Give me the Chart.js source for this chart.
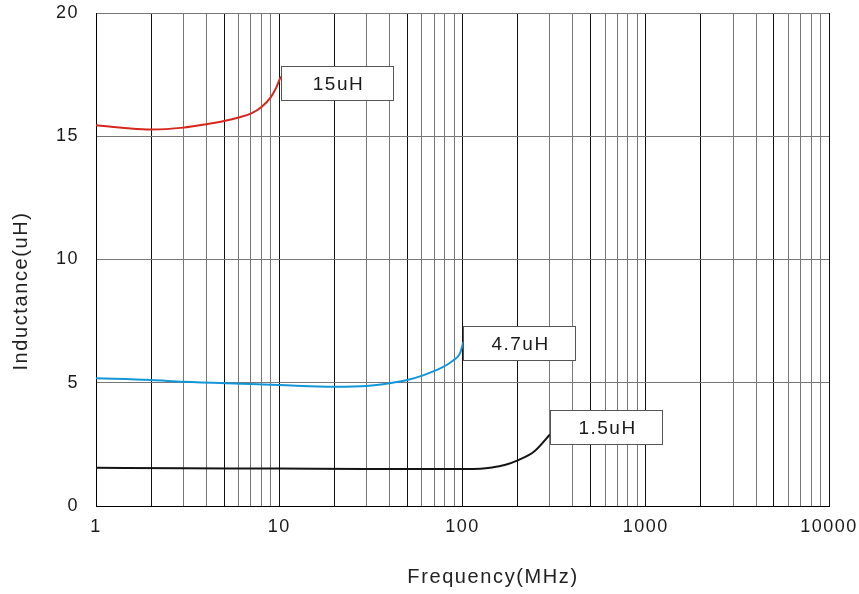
<!DOCTYPE html>
<html>
<head>
<meta charset="utf-8">
<script src="https://cdn.jsdelivr.net/npm/chart.js@4/dist/chart.umd.min.js"></script>
<style>
  html, body { margin: 0; padding: 0; background: #fff; }
  #wrap { width: 859px; height: 594px; }
</style>
</head>
<body>
<div id="wrap"><canvas id="chart"></canvas></div>
<script>
// frequency ticks (MHz), one gridline each
const freqTicks = [1, 2, 3, 4, 5, 6, 7, 8, 9,
    10, 20, 30, 40, 50, 60, 70, 80, 90,
    100, 200, 300, 400, 500, 600, 700, 800, 900,
    1000, 2000, 3000, 4000, 5000, 6000, 7000, 8000, 9000, 10000];
const freqLabels = [1, 10, 100, 1000, 10000];

// 15uH
const freq15 = [1, 1.5, 2, 3, 4, 5, 6, 7, 8, 9, 9.6, 10.2];
const ind15 = [15.45, 15.32, 15.27, 15.35, 15.49, 15.62, 15.76, 15.92, 16.19, 16.59, 16.95, 17.43];

// 4.7uH
const freq47 = [1, 2, 3, 7, 10, 20, 30, 40, 50, 62, 76, 90, 97, 101];
const ind47 = [5.18, 5.11, 5.04, 4.95, 4.91, 4.84, 4.87, 4.98, 5.11, 5.32, 5.59, 5.93, 6.2, 6.65];

// 1.5uH
const freq15b = [1, 3, 10, 30, 100, 125, 145, 170, 200, 247, 300];
const ind15b = [1.55, 1.53, 1.52, 1.5, 1.5, 1.51, 1.56, 1.66, 1.85, 2.22, 2.9];

// label boxes: name, frequency of left edge, inductance at box centre
const boxNames = ["15uH", "4.7uH", "1.5uH"];
const boxFreq = [10.2, 101, 300];
const boxValue = [17.15, 6.62, 3.22];

const FONT = "'Liberation Sans', Arial, Helvetica, sans-serif";

function pts(xs, ys) {
    return xs.map(function (x, i) { return { x: x, y: ys[i] }; });
}

function isMain(v) {
    const s = Math.round(v / Math.pow(10, Math.floor(Math.log10(v) + 1e-9)));
    return s === 1 || s === 2 || s === 5;
}

const spacing = {
    id: "spacing",
    beforeLayout: function (chart) { chart.ctx.letterSpacing = "1.5px"; },
    beforeDraw: function (chart) { chart.ctx.letterSpacing = "1.5px"; },
};

const boxes = {
    id: "boxes",
    afterDatasetsDraw: function (chart) {
        const c = chart.ctx;
        const x = chart.scales.x;
        const y = chart.scales.y;
        c.save();
        c.letterSpacing = "1.5px";
        c.font = "19px " + FONT;
        c.textAlign = "center";
        c.textBaseline = "middle";
        boxNames.forEach(function (name, i) {
            const left = Math.round(x.getPixelForValue(boxFreq[i])) + 0.5;
            const cy = y.getPixelForValue(boxValue[i]);
            const top = Math.round(cy - 17) + 0.5;
            c.fillStyle = "#fff";
            c.fillRect(left, top, 112, 34);
            c.strokeStyle = "#555";
            c.lineWidth = 1;
            c.strokeRect(left, top, 112, 34);
            c.fillStyle = "#1a1a1a";
            c.fillText(name, left + 57, top + 18);
        });
        c.restore();
    },
    afterDraw: function (chart) {
        const c = chart.ctx;
        c.save();
        c.letterSpacing = "1.6px";
        c.font = "20px " + FONT;
        c.fillStyle = "#222";
        c.textAlign = "center";
        c.textBaseline = "middle";
        c.fillText("Frequency(MHz)", 493, 577);
        c.translate(21, 291);
        c.rotate(-Math.PI / 2);
        c.fillText("Inductance(uH)", 0, 0);
        c.restore();
    },
};

new Chart(document.getElementById("chart"), {
    type: "line",
    data: {
        datasets: [
            {
                label: "15uH",
                data: pts(freq15, ind15),
                borderColor: "#d8261c",
            },
            {
                label: "4.7uH",
                data: pts(freq47, ind47),
                borderColor: "#1296d8",
            },
            {
                label: "1.5uH",
                data: pts(freq15b, ind15b),
                borderColor: "#141414",
            },
        ],
    },
    options: {
        responsive: true,
        maintainAspectRatio: false,
        animation: false,
        layout: {
            padding: { left: 0, right: 30, top: 13, bottom: 0 },
        },
        elements: {
            line: { borderWidth: 2, cubicInterpolationMode: "monotone", fill: false },
            point: { radius: 0 },
        },
        scales: {
            x: {
                type: "logarithmic",
                min: 1,
                max: 10000,
                afterBuildTicks: function (scale) {
                    scale.ticks = freqTicks.map(function (v) { return { value: v }; });
                },
                afterFit: function (scale) {
                    scale.height = 88;
                    scale.paddingLeft = 0;
                    scale.paddingRight = 0;
                },
                grid: {
                    drawTicks: false,
                    color: function (ctx) {
                        return isMain(ctx.tick.value) ? "#111" : "#777";
                    },
                },
                border: { color: "#000", width: 1 },
                ticks: {
                    autoSkip: false,
                    maxRotation: 0,
                    padding: 10,
                    color: "#1a1a1a",
                    font: { size: 18, family: FONT },
                    callback: function (v) {
                        return freqLabels.indexOf(v) >= 0 ? String(v) : "";
                    },
                },
                title: { display: false },
            },
            y: {
                min: 0,
                max: 20,
                afterFit: function (scale) {
                    scale.width = 96;
                    scale.paddingTop = 0;
                    scale.paddingBottom = 0;
                },
                grid: {
                    drawTicks: false,
                    color: function (ctx) {
                        return ctx.tick.value === 0 ? "#000" : "#777";
                    },
                },
                border: { color: "#000", width: 1 },
                ticks: {
                    stepSize: 5,
                    padding: 17,
                    color: "#1a1a1a",
                    font: { size: 18, family: FONT },
                },
                title: { display: false },
            },
        },
        plugins: {
            legend: { display: false },
            tooltip: { enabled: false },
        },
    },
    plugins: [spacing, boxes],
});
</script>
</body>
</html>
